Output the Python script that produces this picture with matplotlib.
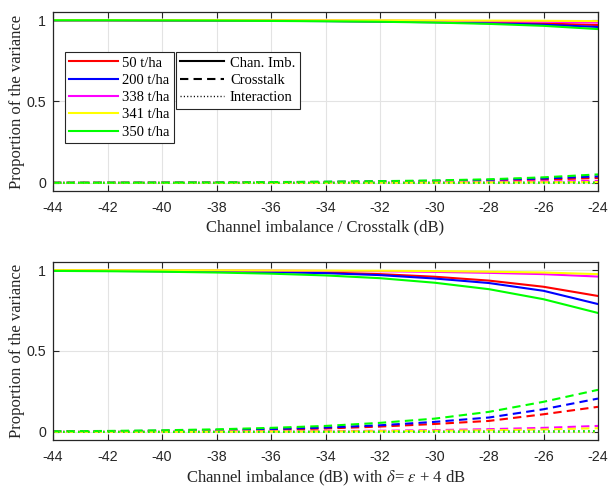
import matplotlib
matplotlib.use("Agg")
import matplotlib.pyplot as plt
from matplotlib.lines import Line2D

plt.rcParams['mathtext.fontset'] = 'stix'

x_db = [-44, -42, -40, -38, -36, -34, -32, -30, -28, -26, -24]
yields = ["50 t/ha", "200 t/ha", "338 t/ha", "341 t/ha", "350 t/ha"]
colors = ["#ff0000", "#0000ff", "#ff00ff", "#ffff00", "#00ff00"]

# Top panel: channel imbalance / crosstalk
top_chan = [
    [0.999, 0.999, 0.998, 0.998, 0.997, 0.995, 0.993, 0.990, 0.985, 0.979, 0.970],
    [0.999, 0.999, 0.998, 0.997, 0.996, 0.994, 0.991, 0.987, 0.981, 0.972, 0.958],
    [1.000, 1.000, 0.999, 0.999, 0.998, 0.998, 0.997, 0.995, 0.993, 0.990, 0.985],
    [1.000, 1.000, 1.000, 1.000, 0.999, 0.999, 0.999, 0.998, 0.997, 0.996, 0.994],
    [0.999, 0.999, 0.998, 0.997, 0.995, 0.993, 0.990, 0.985, 0.977, 0.965, 0.945],
]
top_cross = [
    [0.0005, 0.0008, 0.0012, 0.002, 0.003, 0.0047, 0.0075, 0.0105, 0.014, 0.020, 0.030],
    [0.0006, 0.0010, 0.0016, 0.0025, 0.004, 0.006, 0.009, 0.0125, 0.018, 0.027, 0.040],
    [0.0002, 0.0003, 0.0005, 0.0008, 0.0012, 0.0019, 0.003, 0.0045, 0.0065, 0.009, 0.012],
    [0.0001, 0.0001, 0.0002, 0.0003, 0.0005, 0.0008, 0.0012, 0.0018, 0.0027, 0.0038, 0.005],
    [0.0008, 0.0013, 0.002, 0.003, 0.0048, 0.0073, 0.0105, 0.015, 0.022, 0.034, 0.052],
]
top_inter = [
    [0.0, 0.0, 0.0, 0.0, 0.0, 0.0, 0.0, 0.0001, 0.0001, 0.0002, 0.0003],
    [0.0, 0.0, 0.0, 0.0, 0.0, 0.0, 0.0001, 0.0001, 0.0002, 0.0003, 0.0004],
    [0.0, 0.0, 0.0, 0.0, 0.0, 0.0, 0.0, 0.0, 0.0001, 0.0001, 0.0001],
    [0.0, 0.0, 0.0, 0.0, 0.0, 0.0, 0.0, 0.0, 0.0, 0.0, 0.0001],
    [0.0, 0.0, 0.0, 0.0, 0.0, 0.0001, 0.0001, 0.0001, 0.0002, 0.0004, 0.0006],
]

# Bottom panel: channel imbalance with delta = eps + 4 dB
bot_chan = [
    [0.997, 0.996, 0.994, 0.991, 0.990, 0.985, 0.975, 0.959, 0.935, 0.897, 0.840],
    [0.996, 0.995, 0.993, 0.990, 0.988, 0.981, 0.969, 0.948, 0.920, 0.872, 0.790],
    [0.999, 0.999, 0.998, 0.998, 0.997, 0.995, 0.993, 0.989, 0.983, 0.975, 0.960],
    [1.000, 0.999, 0.999, 0.999, 0.998, 0.997, 0.996, 0.994, 0.990, 0.985, 0.975],
    [0.995, 0.993, 0.990, 0.985, 0.978, 0.967, 0.950, 0.922, 0.882, 0.820, 0.735],
]
bot_cross = [
    [0.002, 0.0035, 0.006, 0.009, 0.014, 0.021, 0.033, 0.049, 0.068, 0.109, 0.155],
    [0.003, 0.0045, 0.007, 0.012, 0.018, 0.027, 0.041, 0.062, 0.089, 0.140, 0.206],
    [0.0008, 0.0012, 0.002, 0.003, 0.004, 0.005, 0.007, 0.011, 0.017, 0.025, 0.037],
    [0.0004, 0.0007, 0.001, 0.0015, 0.0025, 0.003, 0.0045, 0.007, 0.010, 0.015, 0.023],
    [0.004, 0.006, 0.010, 0.016, 0.025, 0.037, 0.056, 0.082, 0.124, 0.186, 0.260],
]
bot_inter = [
    [0.0, 0.0, 0.0, 0.0, 0.0, 0.0001, 0.0002, 0.0004, 0.0007, 0.0012, 0.002],
    [0.0, 0.0, 0.0, 0.0, 0.0001, 0.0001, 0.0002, 0.0005, 0.0009, 0.0016, 0.003],
    [0.0, 0.0, 0.0, 0.0, 0.0, 0.0, 0.0, 0.0001, 0.0001, 0.0002, 0.0003],
    [0.0, 0.0, 0.0, 0.0, 0.0, 0.0, 0.0, 0.0, 0.0001, 0.0001, 0.0002],
    [0.0, 0.0, 0.0, 0.0, 0.0001, 0.0002, 0.0003, 0.0006, 0.0011, 0.002, 0.004],
]

xticks = [-44, -42, -40, -38, -36, -34, -32, -30, -28, -26, -24]
yticks = [0, 0.5, 1]
ytick_labels = ["0", "0.5", "1"]
xlabel_top = "Channel imbalance / Crosstalk (dB)"
xlabel_bot = r"Channel imbalance (dB) with $\delta$= $\epsilon$ + 4 dB"
ylabel = "Proportion of the variance"
style_labels = ["Chan. Imb.", "Crosstalk", "Interaction"]

serif = "Liberation Serif"
sans = "Liberation Sans"

fig = plt.figure(figsize=(6.09, 4.87), dpi=100)
ax1 = fig.add_axes([53/609, 1-191/487, 545/609, 179/487])
ax2 = fig.add_axes([53/609, 1-440/487, 545/609, 178/487])

def style_axes(ax, xlabel):
    ax.set_xlim(-44, -24)
    ax.set_ylim(-0.05, 1.05)
    ax.set_xticks(xticks)
    ax.set_xticklabels([str(t) for t in xticks], fontname=sans, fontsize=10.3)
    ax.set_yticks(yticks)
    ax.set_yticklabels(ytick_labels, fontname=sans, fontsize=10.3)
    ax.grid(True, color="#e3e3e3", linewidth=0.8)
    ax.set_axisbelow(True)
    ax.tick_params(direction="in", top=True, right=True, length=4, width=0.8,
                   color="#262626", labelcolor="#262626")
    ax.tick_params(axis="x", pad=7.5)
    ax.tick_params(axis="y", pad=5)
    for s in ax.spines.values():
        s.set_color("#262626")
        s.set_linewidth(0.9)
    ax.set_xlabel(xlabel, fontname=serif, fontsize=12, color="#262626", labelpad=3)
    ax.set_ylabel(ylabel, fontname=serif, fontsize=12, color="#262626", labelpad=1)

def draw(ax, chan, cross, inter):
    for i in range(5):
        ax.plot(x_db, chan[i], color=colors[i], lw=1.5, ls="-")
    for i in range(5):
        ax.plot(x_db, cross[i], color=colors[i], lw=1.5, ls=(0, (4, 2.5)))
    for i in range(5):
        ax.plot(x_db, inter[i], color=colors[i], lw=1.5, ls=(0, (0.8, 1.6)))

draw(ax1, top_chan, top_cross, top_inter)
draw(ax2, bot_chan, bot_cross, bot_inter)
style_axes(ax1, xlabel_top)
style_axes(ax2, xlabel_bot)

h1 = [Line2D([], [], color=c, lw=1.5) for c in colors]
leg1 = ax1.legend(h1, yields, loc="upper left", bbox_to_anchor=(65/609, 1-52/487),
                  bbox_transform=fig.transFigure, borderaxespad=0, handlelength=3.3,
                  handletextpad=0.3, labelspacing=0.28, borderpad=0.3,
                  prop={"family": serif, "size": 10.5}, fancybox=False,
                  edgecolor="#262626", framealpha=1)
leg1.get_frame().set_linewidth(0.8)
ax1.add_artist(leg1)
h2 = [Line2D([], [], color="k", lw=1.5, ls="-"),
      Line2D([], [], color="k", lw=1.5, ls=(0, (4, 2.5))),
      Line2D([], [], color="k", lw=1.0, ls=(0, (0.8, 1.6)))]
leg2 = ax1.legend(h2, style_labels, loc="upper left", bbox_to_anchor=(176/609, 1-52/487),
                  bbox_transform=fig.transFigure, borderaxespad=0, handlelength=3.0,
                  handletextpad=0.4, labelspacing=0.28, borderpad=0.3,
                  prop={"family": serif, "size": 10.5}, fancybox=False,
                  edgecolor="#262626", framealpha=1)
leg2.get_frame().set_linewidth(0.8)

fig.savefig("out.png", dpi=100)
